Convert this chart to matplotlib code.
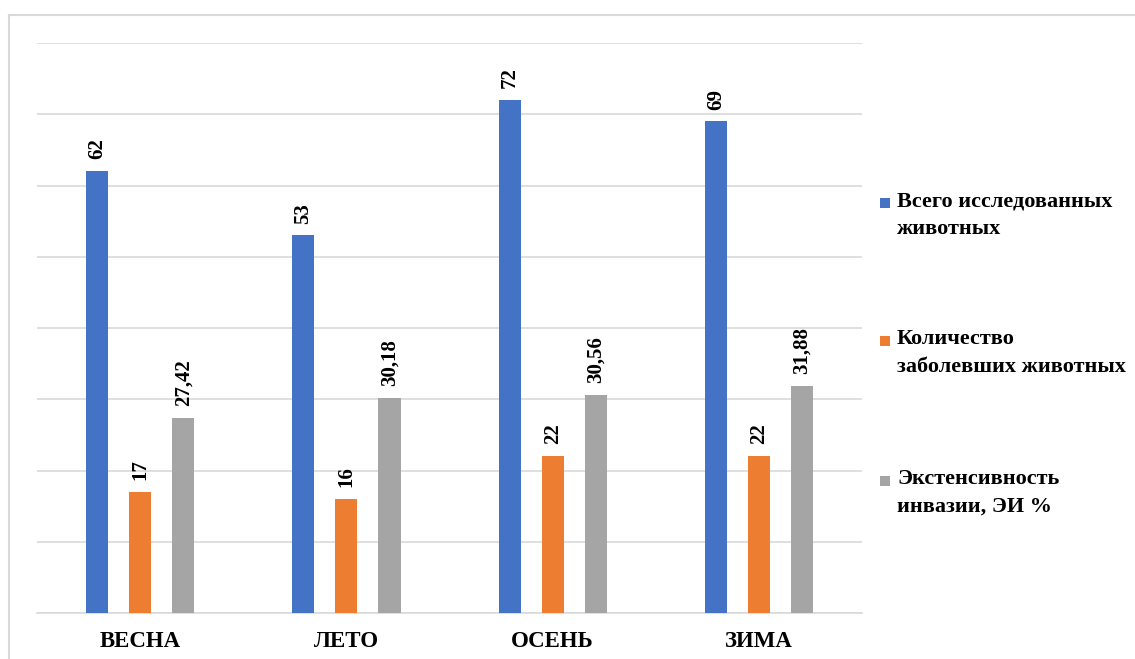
import matplotlib
matplotlib.use("Agg")
import matplotlib.pyplot as plt
from matplotlib.patches import Rectangle
from matplotlib.lines import Line2D
import numpy as np

seasons = ["ВЕСНА", "ЛЕТО", "ОСЕНЬ", "ЗИМА"]
series_names = ["Всего исследованных\nживотных",
                "Количество\nзаболевших животных",
                "Экстенсивность\nинвазии, ЭИ %"]
total_examined = [62, 53, 72, 69]
infected = [17, 16, 22, 22]
invasion_ext = [27.42, 30.18, 30.56, 31.88]
colors = ["#4472C4", "#ED7D31", "#A5A5A5"]

plt.rcParams["font.family"] = ["Liberation Serif", "DejaVu Serif"]

W, H = 1135, 659
fig = plt.figure(figsize=(W / 100, H / 100), dpi=100)
ax = fig.add_axes([0.0326, 0.0698, 0.7269, 0.8649])

x = np.arange(len(seasons))
width = 0.107
step = 0.209
all_series = [total_examined, infected, invasion_ext]


def fmt(v):
    if isinstance(v, float):
        return f"{v:.2f}".replace(".", ",")
    return str(v)


for i, (vals, col) in enumerate(zip(all_series, colors)):
    pos = x + (i - 1) * step
    bars = ax.bar(pos, vals, width=width, color=col, zorder=3)
    for b, v in zip(bars, vals):
        ax.annotate(fmt(v), (b.get_x() + b.get_width() / 2, b.get_height()),
                    xytext=(0, 8.5), textcoords="offset points",
                    rotation=90, ha="center", va="bottom",
                    fontsize=15, fontweight="bold", color="black")

ax.set_xlim(-0.5, 3.5)
ax.set_ylim(0, 80)
ax.set_yticks(np.arange(0, 81, 10))
ax.yaxis.grid(True, color="#D9D9D9", linewidth=1.2, zorder=0)
ax.tick_params(axis="y", left=False, labelleft=False)
ax.set_xticks(x)
ax.set_xticklabels(seasons, fontsize=16.5, fontweight="bold")
ax.tick_params(axis="x", length=0, pad=13)
for s in ["top", "right", "left"]:
    ax.spines[s].set_visible(False)
ax.spines["bottom"].set_color("#D9D9D9")
ax.spines["bottom"].set_linewidth(1.2)

# legend: colour key square beside the first line of each two-line label
legend_first_line_y = [203, 341, 481]
for name, col, ly in zip(series_names, colors, legend_first_line_y):
    fig.add_artist(Rectangle((880 / W, 1 - (ly + 5) / H), 10 / W, 10 / H,
                             transform=fig.transFigure, facecolor=col,
                             edgecolor="none"))
    fig.text(897 / W, 1 - (ly - 12) / H, name, ha="left", va="top",
             fontsize=16, fontweight="bold", linespacing=1.5)

# outer chart frame
fig.add_artist(Line2D([0.0075, 1.0], [0.9765, 0.9765], transform=fig.transFigure,
                      color="#D9D9D9", linewidth=1.5))
fig.add_artist(Line2D([0.0075, 0.0075], [0.0, 0.9765], transform=fig.transFigure,
                      color="#D9D9D9", linewidth=1.5))

fig.savefig("out.png", dpi=100)
